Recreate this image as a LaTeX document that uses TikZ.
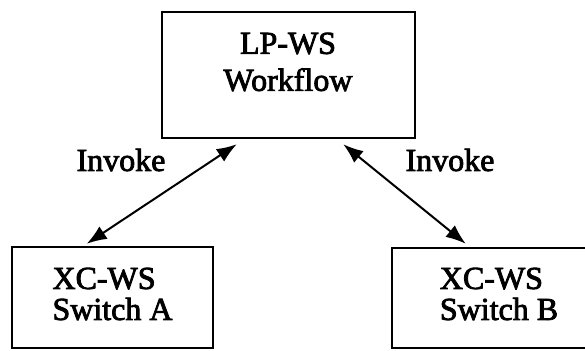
\documentclass[tikz,border=0pt]{standalone}
\usepackage{fontspec}
\setmainfont{Liberation Serif}
\newfontfamily\scanfont[FakeBold=2.5]{Liberation Serif}
\usetikzlibrary{arrows.meta}
\begin{document}
\begin{tikzpicture}[x=1pt,y=1pt,
    box/.style={draw,line width=2.5pt,inner sep=0pt},
    txt/.style={font=\scanfont\fontsize{32}{31}\selectfont,inner sep=0pt},
    link/.style={line width=2pt,{Latex[length=20pt,width=15pt]}-{Latex[length=20pt,width=15pt]}}]
  \useasboundingbox (0,0) rectangle (585,350);
  \node[box,minimum width=253pt,minimum height=126pt] (lp) at (288.5,275) {};
  \node[box,minimum width=201pt,minimum height=101pt] (swa) at (112.5,52.5) {};
  \node[box,minimum width=214pt,minimum height=100pt] (swb) at (499,52) {};
  \node[txt,align=center] (lptext) at (288,288) {LP-WS\\[6pt]Workflow};
  \node[txt,align=left] (swatext) at (112.5,56) {XC-WS\\Switch A};
  \node[txt,align=left] (swbtext) at (499,56) {XC-WS\\Switch B};
  \node[txt] (inva) at (121,190) {Invoke};
  \node[txt] (invb) at (450,190) {Invoke};
  \begin{scope}[link]
    \draw ([xshift=76pt,yshift=-5pt]lp.south west) to ([xshift=76pt,yshift=2pt]swa.north west);
    \draw ([xshift=-73pt,yshift=-5pt]lp.south east) to ([xshift=75pt,yshift=3pt]swb.north west);
  \end{scope}
\end{tikzpicture}
\end{document}
